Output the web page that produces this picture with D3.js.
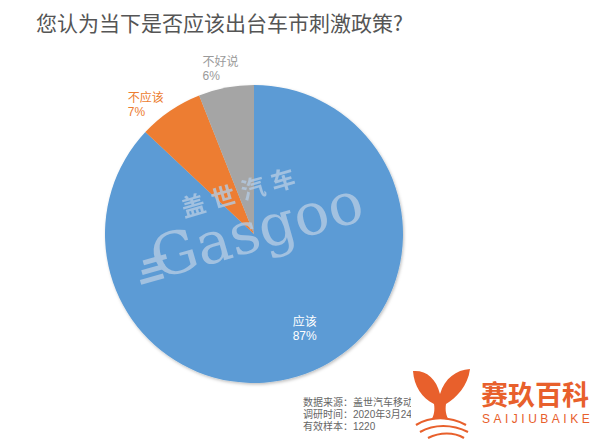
<!DOCTYPE html>
<html>
<head>
<meta charset="utf-8">
<script src="https://cdn.jsdelivr.net/npm/d3@7"></script>
<style>
  body { margin: 0; background: #fff; }
  svg { display: block; font-family: 'Noto Sans CJK SC', 'Noto Sans', sans-serif; }
  .tight { font-family: 'Liberation Sans', 'Noto Sans CJK SC', sans-serif; }
</style>
</head>
<body>
<div id="chart"></div>
<script>
const categories = ['应该', '不应该', '不好说']
const values = [87, 7, 6]
const colors = ['#5b9bd5', '#ed7d31', '#a5a5a5']
const labelColors = ['#ffffff', '#ed7d31', '#9a9a9a']
const notes = ['数据来源：盖世汽车移动端', '调研时间：2020年3月24日', '有效样本：1220']

const width = 600
const height = 447
const cx = 254
const cy = 234
const radius = 149

// small hand nudges for the data labels (excel "best fit" style)
const labelNudge = { '应该': [20, 10], '不应该': [-14, 10], '不好说': [-2, 0] }

const svg = d3.select('#chart').append('svg')
  .attr('width', width)
  .attr('height', height)

const defs = svg.append('defs')
const shadow = defs.append('filter').attr('id', 'soft')
  .attr('x', '-10%').attr('y', '-10%').attr('width', '120%').attr('height', '120%')
shadow.append('feDropShadow')
  .attr('dx', 1).attr('dy', 1.5)
  .attr('stdDeviation', 1.5)
  .attr('flood-color', '#000')
  .attr('flood-opacity', 0.25)

svg.append('text')
  .attr('x', 36)
  .attr('y', 31)
  .attr('font-size', 21)
  .attr('fill', '#555')
  .text('您认为当下是否应该出台车市刺激政策?')

const pie = d3.pie().sort(null).value((d) => d.value)
const arc = d3.arc().innerRadius(0).outerRadius(radius)

const data = categories.map((c, i) => ({ label: c, value: values[i], color: colors[i], labelColor: labelColors[i] }))
const arcs = pie(data)

const g = svg.append('g').attr('transform', `translate(${cx}, ${cy})`)

g.append('g')
  .attr('filter', 'url(#soft)')
  .selectAll('path.slice')
  .data(arcs)
  .enter().append('path')
  .attr('class', 'slice')
  .attr('d', arc)
  .attr('fill', (d) => d.data.color)

// Gasgoo watermark (drawn before labels)
const wm = svg.append('g')
  .attr('transform', 'translate(250, 236) rotate(-16)')
  .attr('fill', '#b4cbe3')
  .attr('opacity', 0.8)

wm.append('text')
  .attr('x', 4)
  .attr('y', -36)
  .attr('font-size', 24)
  .attr('font-weight', 'bold')
  .attr('letter-spacing', 7)
  .attr('text-anchor', 'middle')
  .text('盖世汽车')

wm.append('text')
  .attr('x', 8)
  .attr('y', 16)
  .attr('font-size', 58)
  .attr('font-family', 'DejaVu Serif, Liberation Serif, serif')
  .attr('text-anchor', 'middle')
  .text('Gasgoo')

wm.selectAll('rect.stripe')
  .data([0, 1, 2])
  .enter().append('rect')
  .attr('class', 'stripe')
  .attr('x', (d) => -110 - d * 4)
  .attr('y', (d) => -6 + d * 9)
  .attr('width', 24)
  .attr('height', 5)

// label positions: big slice inside, small ones outside
const labelPos = (d) => {
  const mid = (d.startAngle + d.endAngle) / 2
  const nudge = labelNudge[d.data.label]
  const r = d.data.value > 50 ? radius * 0.62 : radius * 1.125
  return [Math.sin(mid) * r + nudge[0], -Math.cos(mid) * r + nudge[1]]
}

const labels = g.selectAll('text.lbl')
  .data(arcs)
  .enter().append('text')
  .attr('class', 'lbl tight')
  .attr('transform', (d) => `translate(${labelPos(d)})`)
  .attr('font-size', 12)
  .attr('fill', (d) => d.data.labelColor)

labels.append('tspan')
  .attr('x', -18)
  .attr('y', -3)
  .text((d) => d.data.label)

labels.append('tspan')
  .attr('x', -18)
  .attr('y', 11)
  .text((d) => `${d.data.value}%`)

// footer notes, one text block
const noteText = svg.append('text')
  .attr('class', 'tight')
  .attr('font-size', 10)
  .attr('fill', '#666')

noteText.selectAll('tspan')
  .data(notes)
  .enter().append('tspan')
  .attr('x', 303)
  .attr('y', (d, i) => 406 + i * 12)
  .text((d) => d)

// logo block
const logo = svg.append('g')
logo.append('rect')
  .attr('x', 411).attr('y', 362)
  .attr('width', 189).attr('height', 85)
  .attr('fill', '#fff')

const orange = '#e8602c'
logo.append('path')
  .attr('fill', orange)
  .attr('d', 'M413,371 C426,370 436,378 440,394 C445,378 456,370 470,369 C468,386 456,398 446,404 C445,410 446,416 449,420 C443,418 437,418 431,420 C434,416 435,410 434,404 C422,398 414,386 413,371 Z')
logo.append('path')
  .attr('fill', 'none')
  .attr('stroke', orange)
  .attr('stroke-width', 2.2)
  .attr('d', 'M416,425 C430,416 450,416 466,425 M420,432 C434,424 452,424 468,432 M428,438 C440,432 454,432 464,438')

logo.append('text')
  .attr('class', 'tight')
  .attr('x', 481)
  .attr('y', 405)
  .attr('font-size', 27)
  .attr('font-weight', 'bold')
  .attr('fill', orange)
  .text('赛玖百科')

logo.append('text')
  .attr('x', 482)
  .attr('y', 423)
  .attr('font-size', 12)
  .attr('letter-spacing', 3.5)
  .attr('fill', orange)
  .attr('font-family', 'Liberation Sans, sans-serif')
  .text('SAIJIUBAIKE')
</script>
</body>
</html>
